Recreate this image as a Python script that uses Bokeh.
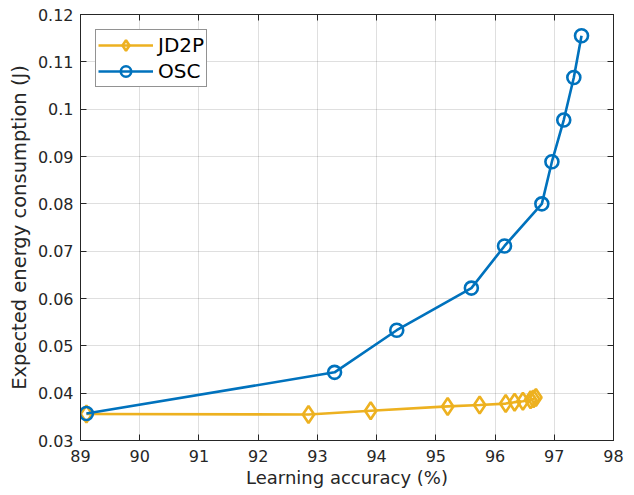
from bokeh.plotting import figure
from bokeh.models import LinearAxis, Range1d, FixedTicker, Legend, LegendItem, CustomJSTickFormatter
from bokeh.embed import file_html
from bokeh.resources import INLINE

# Learning accuracy (%) vs expected energy consumption (J)
jd2p_acc = [89.1, 92.85, 93.9, 95.2, 95.74, 96.18, 96.33, 96.47, 96.6, 96.65, 96.69]
jd2p_energy = [0.0356, 0.0355, 0.0363, 0.0372, 0.0375, 0.0378, 0.0381, 0.0383, 0.0386, 0.0388, 0.0391]

osc_acc = [89.1, 93.29, 94.34, 95.6, 96.16, 96.79, 96.96, 97.16, 97.33, 97.46]
osc_energy = [0.0357, 0.0444, 0.0533, 0.0622, 0.0711, 0.0800, 0.0889, 0.0977, 0.1067, 0.1155]

x_ticks = [89, 90, 91, 92, 93, 94, 95, 96, 97, 98]
y_ticks = [0.03, 0.04, 0.05, 0.06, 0.07, 0.08, 0.09, 0.10, 0.11, 0.12]
y_labels = {0.03: "0.03", 0.04: "0.04", 0.05: "0.05", 0.06: "0.06", 0.07: "0.07",
            0.08: "0.08", 0.09: "0.09", 0.10: "0.1", 0.11: "0.11", 0.12: "0.12"}

BLUE = "#0072BD"
YELLOW = "#EDB120"
AXIS = "#262626"
FONT = "DejaVu Sans"
LW = 2.6

p = figure(width=634, height=495, output_backend="svg", toolbar_location=None,
           x_range=Range1d(89, 98), y_range=Range1d(0.03, 0.12),
           min_border_left=80, min_border_right=21, min_border_top=14, min_border_bottom=55,
           x_axis_label="Learning accuracy (%)", y_axis_label="Expected energy consumption (J)")
p.outline_line_color = AXIS
p.outline_line_width = 1
p.background_fill_color = "white"

p.xaxis.ticker = FixedTicker(ticks=x_ticks)
p.yaxis.ticker = FixedTicker(ticks=y_ticks)
p.yaxis.major_label_overrides = y_labels

for ax in (p.xaxis[0], p.yaxis[0]):
    ax.major_tick_in = 6
    ax.major_tick_out = 0
    ax.minor_tick_in = 0
    ax.minor_tick_out = 0
    ax.axis_line_color = AXIS
    ax.major_tick_line_color = AXIS
    ax.major_label_text_font = FONT
    ax.major_label_text_font_size = "16px"
    ax.major_label_text_color = AXIS
    ax.axis_label_text_font = FONT
    ax.axis_label_text_font_style = "normal"
    ax.axis_label_text_color = AXIS
p.xaxis.axis_label_text_font_size = "18px"
p.yaxis.axis_label_text_font_size = "19.5px"
p.xaxis.major_label_standoff = 9
p.xaxis.axis_label_standoff = 2
p.yaxis.major_label_standoff = 7
p.yaxis.axis_label_standoff = 4

# Box-style frame: mirrored ticks (no labels) on top and right
blank = CustomJSTickFormatter(code="return ''")
top = LinearAxis(ticker=FixedTicker(ticks=x_ticks), formatter=blank, major_label_standoff=0,
                 major_tick_in=6, major_tick_out=0, minor_tick_in=0, minor_tick_out=0,
                 axis_line_color=AXIS, major_tick_line_color=AXIS)
right = LinearAxis(ticker=FixedTicker(ticks=y_ticks), formatter=blank, major_label_standoff=0,
                   major_tick_in=6, major_tick_out=0, minor_tick_in=0, minor_tick_out=0,
                   axis_line_color=AXIS, major_tick_line_color=AXIS)
p.add_layout(top, "above")
p.add_layout(right, "right")

p.grid.grid_line_color = "#262626"
p.grid.grid_line_alpha = 0.15
p.grid.grid_line_width = 1

l1 = p.line(jd2p_acc, jd2p_energy, line_color=YELLOW, line_width=LW)
s1 = p.scatter(jd2p_acc, jd2p_energy, marker="diamond", size=17, line_color=YELLOW,
               line_width=LW, fill_color=None)
l2 = p.line(osc_acc, osc_energy, line_color=BLUE, line_width=LW)
s2 = p.scatter(osc_acc, osc_energy, marker="circle", size=13, line_color=BLUE,
               line_width=LW, fill_color=None)

legend = Legend(items=[LegendItem(label="JD2P", renderers=[l1, s1]),
                       LegendItem(label="OSC", renderers=[l2, s2])],
                location="top_left")
legend.label_text_font = FONT
legend.label_text_font_size = "20px"
legend.label_text_color = "black"
legend.border_line_color = AXIS
legend.border_line_width = 1
legend.background_fill_alpha = 1
legend.glyph_width = 55
legend.glyph_height = 26
legend.label_height = 26
legend.spacing = -1
legend.padding = 2
legend.margin = 15
legend.label_standoff = 5
p.add_layout(legend)

open("out.html", "w").write(file_html(p, INLINE))
